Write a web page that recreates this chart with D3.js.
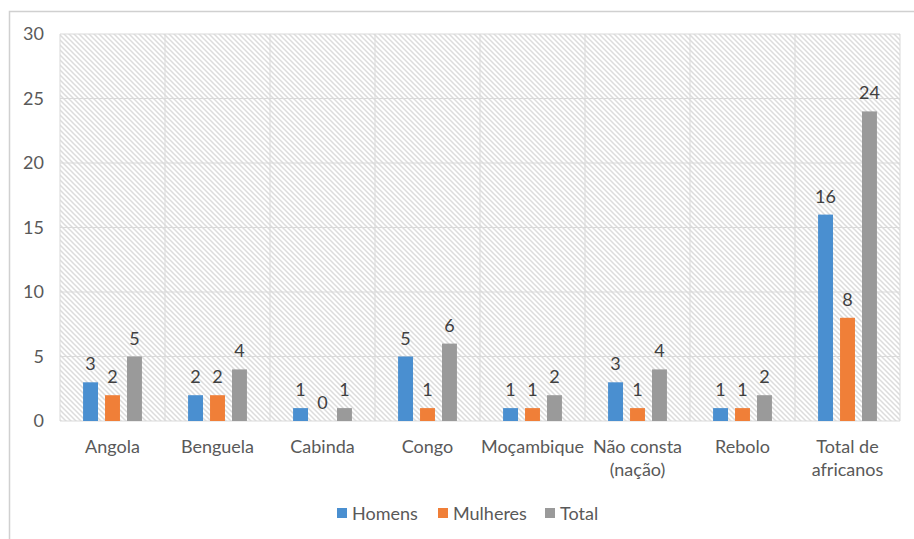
<!DOCTYPE html>
<html><head><meta charset="utf-8">
<script src="https://cdn.jsdelivr.net/npm/d3@7"></script>
<style>body{margin:0;background:#fff;}svg{display:block;font-family:Lato,"Open Sans",sans-serif;}</style>
</head><body>
<svg id="c" width="914" height="539"></svg>
<script>
const categories = ["Angola","Benguela","Cabinda","Congo","Moçambique","Não consta\n(nação)","Rebolo","Total de\nafricanos"];
const homens = [3,2,1,5,1,3,1,16];
const mulheres = [2,2,0,1,1,1,1,8];
const total = [5,4,1,6,2,4,2,24];
const seriesNames = ["Homens","Mulheres","Total"];
const colors = ["#4a8fd0","#f07f38","#9a9a9a"];
const yTicks = [0,5,10,15,20,25,30];

const svg = d3.select("#c");
svg.append("path").attr("d","M9.5,539 V11.5 H914").attr("fill","none").attr("stroke","#d0d0d0").attr("stroke-width",1.5);

const defs = svg.append("defs");
const pat = defs.append("pattern").attr("id","hatch").attr("patternUnits","userSpaceOnUse").attr("width",5).attr("height",5);
pat.append("rect").attr("width",5).attr("height",5).attr("fill","#fff");
pat.append("path").attr("d","M-1,-1 L6,6 M-1,4 L1,6 M4,-1 L6,1").attr("stroke","#dcdcdc").attr("stroke-width",1.5);

const L=60,R=900,T=34,B=421;
const x = d3.scaleBand().domain(d3.range(categories.length)).range([L,R]);
const y = d3.scaleLinear().domain([0,30]).range([B,T]);
const xs = d3.scaleBand().domain(d3.range(3)).range([0,x.bandwidth()]).paddingInner(0.32).paddingOuter(1.05);

svg.append("rect").attr("x",L).attr("y",T).attr("width",R-L).attr("height",B-T).attr("fill","url(#hatch)");
svg.append("g").selectAll("line").data(yTicks).join("line")
  .attr("x1",L).attr("x2",R).attr("y1",d=>y(d)).attr("y2",d=>y(d)).attr("stroke","#d9d9d9").attr("stroke-width",1);
svg.append("g").selectAll("line").data(d3.range(categories.length+1)).join("line")
  .attr("x1",d=>L+d*x.step()).attr("x2",d=>L+d*x.step()).attr("y1",T).attr("y2",B).attr("stroke","#d9d9d9");

const ya = d3.axisLeft(y).tickValues(yTicks).tickSize(0).tickPadding(16);
const yg = svg.append("g").attr("transform",`translate(${L},0)`).call(ya);
yg.select(".domain").remove();
yg.selectAll("text").attr("font-size",18).attr("fill","#595959").attr("font-family","Lato,sans-serif");

const data = [homens,mulheres,total];
const g = svg.append("g");
data.forEach((arr,si)=>{
  g.selectAll(null).data(arr).join("rect")
    .attr("x",(d,i)=>x(i)+xs(si)).attr("width",xs.bandwidth())
    .attr("y",d=>y(d)).attr("height",d=>B-y(d)).attr("fill",colors[si]);
  g.selectAll(null).data(arr).join("text")
    .attr("x",(d,i)=>x(i)+xs(si)+xs.bandwidth()/2).attr("y",d=>y(d)-12)
    .attr("text-anchor","middle").attr("font-size",18).attr("fill","#404040").text(d=>d);
});

const xl = svg.append("g");
categories.forEach((c,i)=>{
  const t = xl.append("text").attr("x",x(i)+x.bandwidth()/2).attr("y",453).attr("text-anchor","middle")
    .attr("font-size",18).attr("fill","#595959");
  c.split("\n").forEach((line,j)=>t.append("tspan").attr("x",x(i)+x.bandwidth()/2).attr("dy",j?23:0).text(line));
});

const legX = [337,438,545];
seriesNames.forEach((n,i)=>{
  svg.append("rect").attr("x",legX[i]).attr("y",508).attr("width",10).attr("height",10).attr("fill",colors[i]);
  svg.append("text").attr("x",legX[i]+15).attr("y",520).attr("font-size",18).attr("fill","#595959").text(n);
});
</script>
</body></html>
